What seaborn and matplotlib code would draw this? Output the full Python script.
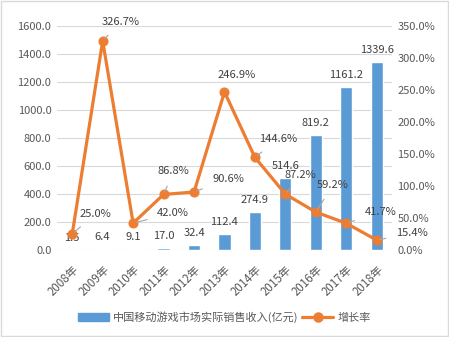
import numpy as np
import pandas as pd
import matplotlib
matplotlib.use("Agg")
import matplotlib.pyplot as plt
from matplotlib.lines import Line2D
from matplotlib.patches import Patch, Rectangle
import seaborn as sns

years = ["2008年", "2009年", "2010年", "2011年", "2012年", "2013年",
         "2014年", "2015年", "2016年", "2017年", "2018年"]
revenue = [1.5, 6.4, 9.1, 17.0, 32.4, 112.4, 274.9, 514.6, 819.2, 1161.2, 1339.6]
growth = [25.0, 326.7, 42.0, 86.8, 90.6, 246.9, 144.6, 87.2, 59.2, 41.7, 15.4]
left_ticks = [0, 200, 400, 600, 800, 1000, 1200, 1400, 1600]
right_ticks = [0, 50, 100, 150, 200, 250, 300, 350]
bar_name = "中国移动游戏市场实际销售收入(亿元)"
line_name = "增长率"

# label offsets (pixels) for the growth-rate callouts
label_offsets = [(23, 20), (18, 19), (40, 10), (10, 23), (34, 13), (12, 17),
                 (23, 18), (15, 19), (17, 27), (34, 11), (35, 7)]

sns.set_theme(style="white")
plt.rcParams["font.family"] = ["Noto Sans CJK SC", "DejaVu Sans"]

BLUE = "#5B9BD5"
ORANGE = "#ED7D31"
TXT = "#595959"

df = pd.DataFrame({"year": years, "revenue": revenue,
                   "growth": growth, "pos": np.arange(len(years))})

fig = plt.figure(figsize=(4.49, 3.37), dpi=100)
fig.patch.set_facecolor("white")
fig.add_artist(Rectangle((0.002, 0.003), 0.995, 0.993, transform=fig.transFigure,
                         fill=False, edgecolor="#D9D9D9", linewidth=1.0))

ax = fig.add_axes([57 / 449, 1 - 250 / 337, 335 / 449, 224 / 337])
sns.barplot(data=df, x="year", y="revenue", color=BLUE, width=0.4,
            saturation=1, ax=ax, zorder=2)
ax.set_ylim(0, 1600)
ax.set_xlim(-0.5, len(years) - 0.5)
ax.set_yticks(left_ticks)
ax.set_yticklabels([f"{v:.1f}" for v in left_ticks], fontsize=8, color=TXT)
ax.yaxis.grid(True, color="#D9D9D9", linewidth=0.8, zorder=0)
ax.set_axisbelow(True)
ax.set_xlabel("")
ax.set_ylabel("")
ax.tick_params(axis="y", length=0, pad=4)
ax.tick_params(axis="x", length=0, pad=9)
ax.set_xticks(range(len(years)))
ax.set_xticklabels(years, rotation=45, ha="right", rotation_mode="anchor",
                   fontsize=8.3, color=TXT)
for s in ax.spines.values():
    s.set_visible(False)

for i, v in enumerate(revenue):
    ax.annotate(f"{v:.1f}", (i, v), xytext=(0, 7), textcoords="offset pixels",
                ha="center", va="bottom", fontsize=8, color="#404040")

ax2 = ax.twinx()
sns.lineplot(data=df, x="pos", y="growth", color=ORANGE, linewidth=2.3,
             marker="o", markersize=6.5, markeredgecolor=ORANGE, ax=ax2)
ax2.set_ylim(0, 350)
ax2.set_yticks(right_ticks)
ax2.set_yticklabels([f"{v:.1f}%" for v in right_ticks], fontsize=8, color=TXT)
ax2.set_ylabel("")
ax2.set_xlabel("")
ax2.tick_params(axis="y", length=0, pad=4)
for s in ax2.spines.values():
    s.set_visible(False)
ax2.set_xlim(-0.5, len(years) - 0.5)

for i, (g, off) in enumerate(zip(growth, label_offsets)):
    ax2.annotate(f"{g:.1f}%", (i, g), xytext=off, textcoords="offset pixels",
                 ha="center", va="center", fontsize=8, color="#404040",
                 arrowprops=dict(arrowstyle="-", color="#A6A6A6", lw=0.8,
                                 shrinkA=5, shrinkB=2))

handles = [Patch(facecolor=BLUE, edgecolor=BLUE),
           Line2D([0], [0], color=ORANGE, linewidth=2.3, marker="o",
                  markersize=6.5)]
fig.legend(handles, [bar_name, line_name], loc="center",
           bbox_to_anchor=(0.5, 1 - 317 / 337), ncol=2, frameon=False,
           fontsize=8, labelcolor=TXT, handlelength=2.8, handletextpad=0.4,
           columnspacing=0.3)

fig.savefig("out.png", dpi=100)
